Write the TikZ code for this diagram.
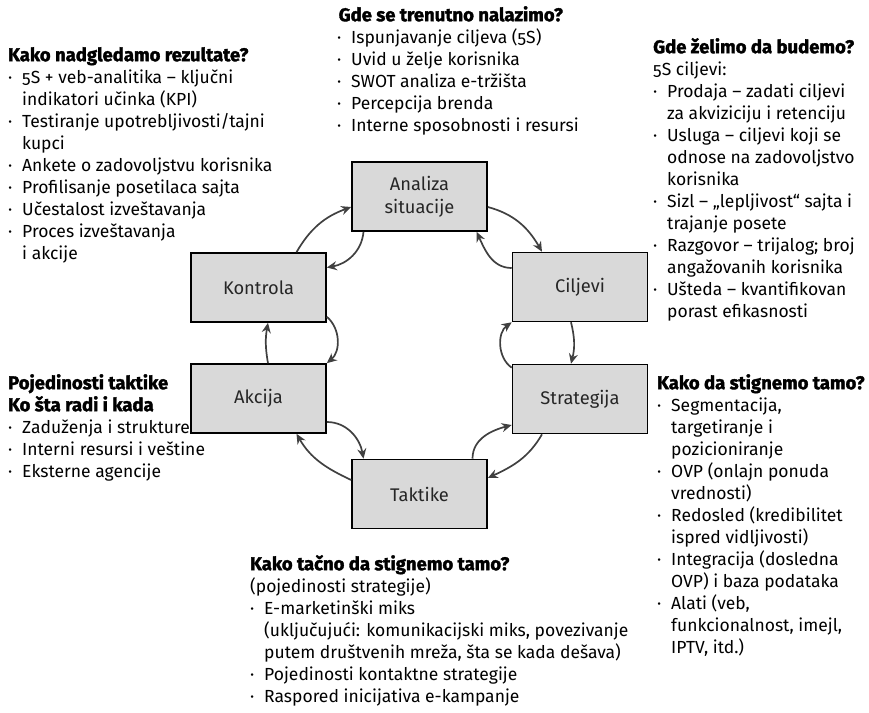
\documentclass[tikz,border=0pt]{standalone}
\usepackage{fontspec}
\setmainfont{Fira Sans}[Numbers=OldStyle, BoldFeatures={FakeBold=1.8}]
\usetikzlibrary{arrows.meta}

\definecolor{boxgray}{HTML}{D9D9D9}
\definecolor{arrowgray}{HTML}{404040}

\newcommand{\bl}{\makebox[14pt][l]{·}}
\newcommand{\ind}{\hspace*{14pt}}
\newcommand{\hd}[1]{\strut{\bfseries\fontsize{18.5}{22}\selectfont #1}}

\tikzset{
  stage/.style={draw=black, line width=1.6pt, fill=boxgray,
    minimum width=135pt, minimum height=69pt, inner sep=0pt,
    align=center, text=black!85, font=\fontsize{18.3}{23}\selectfont},
  flow/.style={draw=arrowgray, line width=1.7pt,
    -{Stealth[length=10pt,width=9pt]}},
  note/.style={anchor=north west, yshift=15.4pt, inner sep=0pt, align=left,
    font=\fontsize{17.5}{22}\selectfont}
}

\begin{document}
\begin{tikzpicture}[x=1pt,y=1pt]
\useasboundingbox (0,0) rectangle (869,-712);

% die sechs Stufen
\node[stage] (analiza)    at (419.5,-196.5) {Analiza\\situacije};
\node[stage] (ciljevi)    at (580,-287)     {Ciljevi};
\node[stage] (strategija) at (580,-399)     {Strategija};
\node[stage] (taktike)    at (419.5,-494)   {Taktike};
\node[stage] (akcija)     at (258.5,-398.5) {Akcija};
\node[stage] (kontrola)   at (258.5,-287.5) {Kontrola};

% Pfeile im Kreis
\draw[flow] ([xshift=38pt]kontrola.north) to[out=60,in=200] ([yshift=-10.5pt]analiza.west);
\draw[flow] ([xshift=-56pt]analiza.south) to[out=-95,in=10] ([yshift=20pt]kontrola.east);
\draw[flow] ([yshift=-10.5pt]analiza.east) to[out=-15,in=120] ([xshift=-38pt]ciljevi.north);
\draw[flow] ([yshift=19pt]ciljevi.west) to[out=180,in=-65] ([xshift=57pt]analiza.south);
\draw[flow] ([xshift=-9pt]ciljevi.south) to[bend left=14] ([xshift=-9pt]strategija.north);
\draw[flow] ([yshift=-4pt]strategija.north west) to[bend left=55] (ciljevi.south west);
\draw[flow] ([xshift=-38pt]strategija.south) to[out=-120,in=25] ([yshift=16pt]taktike.east);
\draw[flow] ([xshift=53pt]taktike.north) to[out=90,in=195] ([yshift=-26pt]strategija.west);
\draw[flow] ([yshift=-23.5pt]akcija.east) to[out=0,in=100] ([xshift=-56pt]taktike.north);
\draw[flow] ([yshift=14pt]taktike.west) to[out=155,in=-60] ([xshift=38pt]akcija.south);
\draw[flow] ([xshift=9.5pt]akcija.north) to[bend left=10] ([xshift=9.5pt]kontrola.south);
\draw[flow] ([yshift=6pt]kontrola.south east) to[bend left=50] (akcija.north east);

% Texte
\node[note] (gde) at (337,-21) {\hspace*{1.5pt}\hd{Gde se trenutno nalazimo?}\\
  \bl Ispunjavanje ciljeva (5S)\\
  \bl Uvid u želje korisnika\\
  \bl SWOT analiza e-tržišta\\
  \bl Percepcija brenda\\
  \bl Interne sposobnosti i resursi};

\node[note] (nadgled) at (8,-61) {\hd{Kako nadgledamo rezultate?}\\
  \bl 5S + veb-analitika – ključni\\
  \ind indikatori učinka (KPI)\\
  \bl Testiranje upotrebljivosti/tajni\\
  \ind kupci\\
  \bl Ankete o zadovoljstvu korisnika\\
  \bl Profilisanje posetilaca sajta\\
  \bl Učestalost izveštavanja\\
  \bl Proces izveštavanja\\
  \ind i akcije};

\node[note] (zelimo) at (653,-53) {\hd{Gde želimo da budemo?}\\
  5S ciljevi:\\
  \bl Prodaja – zadati ciljevi\\
  \ind za akviziciju i retenciju\\
  \bl Usluga – ciljevi koji se\\
  \ind odnose na zadovoljstvo\\
  \ind korisnika\\
  \bl Sizl – „lepljivost“ sajta i\\
  \ind trajanje posete\\
  \bl Razgovor – trijalog; broj\\
  \ind angažovanih korisnika\\
  \bl Ušteda – kvantifikovan\\
  \ind porast efikasnosti};

\node[note] (pojed) at (8,-389) {\hd{Pojedinosti taktike}\\
  \hd{Ko šta radi i kada}\\
  \bl Zaduženja i strukture\\
  \bl Interni resursi i veštine\\
  \bl Eksterne agencije};

\node[note] (stignemo) at (657,-389) {\hd{Kako da stignemo tamo?}\\
  \bl Segmentacija,\\
  \ind targetiranje i\\
  \ind pozicioniranje\\
  \bl OVP (onlajn ponuda\\
  \ind vrednosti)\\
  \bl Redosled (kredibilitet\\
  \ind ispred vidljivosti)\\
  \bl Integracija (dosledna\\
  \ind OVP) i baza podataka\\
  \bl Alati (veb,\\
  \ind funkcionalnost, imejl,\\
  \ind IPTV, itd.)};

\node[note] (tacno) at (250,-570) {\hd{Kako tačno da stignemo tamo?}\\
  (pojedinosti strategije)\\
  \bl E-marketinški miks\\
  \ind (uključujući: komunikacijski miks, povezivanje\\
  \ind putem društvenih mreža, šta se kada dešava)\\
  \bl Pojedinosti kontaktne strategije\\
  \bl Raspored inicijativa e-kampanje};

\end{tikzpicture}
\end{document}
